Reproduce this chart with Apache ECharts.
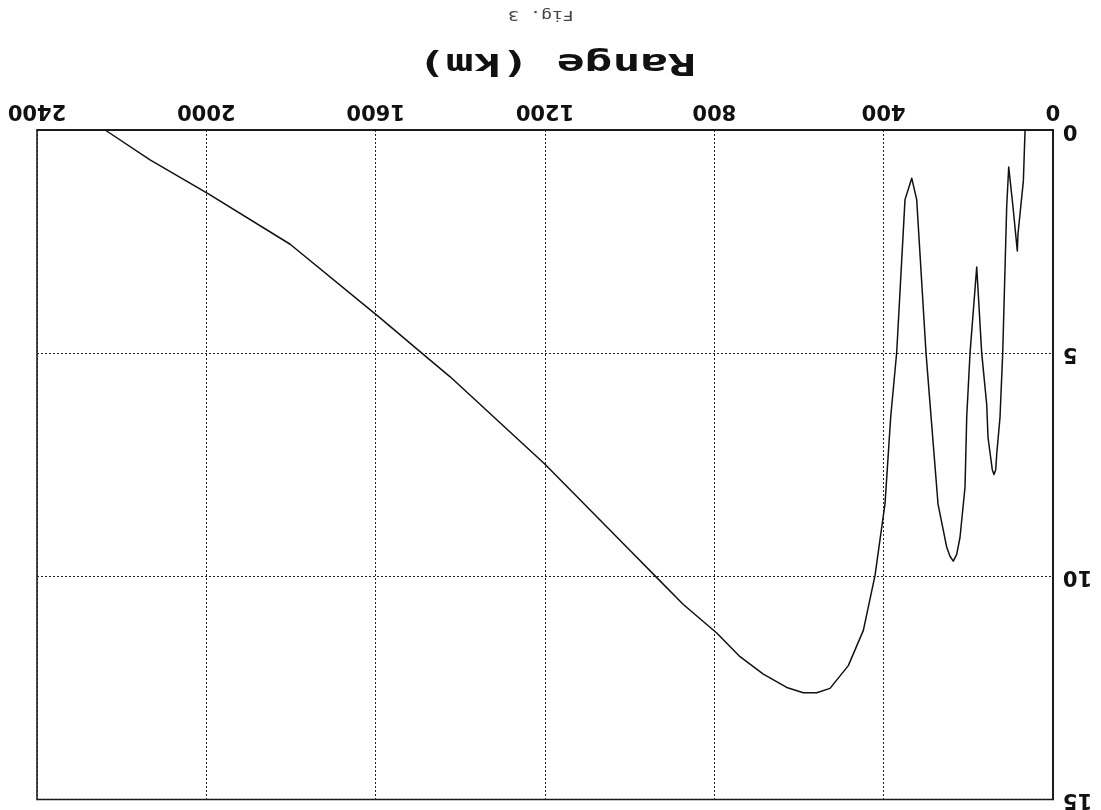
<!DOCTYPE html>
<html>
<head>
<meta charset="utf-8">
<script src="https://cdn.jsdelivr.net/npm/echarts@6/dist/echarts.min.js"></script>
<style>
html,body{margin:0;padding:0;background:#fff;}
#chart{width:1101px;height:810px;}
</style>
</head>
<body>
<div id="chart"></div>
<script>
// Range (km) along the path and the plotted value (axis 0..15)
const rangeKm = [66, 70, 82.7, 84.3, 94.5, 104.6, 109.4, 118.8, 125.2, 133, 135.3, 139.4, 143.4, 153.5, 156.6, 168.4, 180.2, 196, 203.8, 207.9, 219.7, 227.5, 235.5, 243.3, 251, 271.6, 290.5, 300, 322, 333.7, 349.6, 369.2, 383.3, 396.8, 420.4, 448, 483.5, 526.7, 558.1, 589.8, 629, 684.3, 739.3, 794.3, 873.2, 940, 999, 1200, 1424, 1491, 1589.6, 1802, 1995, 2133, 2239];
const values = [0, 1.14, 2.33, 2.71, 1.72, 0.83, 1.72, 5.0, 6.44, 7.27, 7.61, 7.72, 7.61, 6.89, 6.15, 5.0, 3.07, 5.0, 6.43, 8.01, 9.13, 9.51, 9.66, 9.55, 9.35, 8.38, 6.13, 4.99, 1.56, 1.08, 1.56, 4.98, 6.42, 8.37, 9.98, 11.21, 12.0, 12.51, 12.61, 12.61, 12.49, 12.19, 11.80, 11.27, 10.63, 9.99, 9.42, 7.49, 5.53, 5.0, 4.21, 2.56, 1.43, 0.67, 0];
const xAxisMin = 0, xAxisMax = 2400, xAxisStep = 400;
const yAxisMin = 0, yAxisMax = 15, yAxisStep = 5;
const xTitle = 'Range (km)';
const figLabel = 'Fig. 3';

const seriesData = rangeKm.map((r, i) => [r, values[i]]);
const chart = echarts.init(document.getElementById('chart'), null, {renderer: 'canvas'});
const labelFont = {fontFamily: 'DejaVu Sans', fontWeight: 'bold', fontSize: 21, color: '#111', formatter: v => String(v)};
chart.setOption({
  backgroundColor: '#fff',
  animation: false,
  grid: {left: 37, right: 48, top: 130, bottom: 10, show: true, borderColor: '#111', borderWidth: 1.5, backgroundColor: 'transparent'},
  xAxis: {
    type: 'value', min: xAxisMin, max: xAxisMax, interval: xAxisStep,
    inverse: true, position: 'top',
    axisLine: {show: true, lineStyle: {color: '#111', width: 1.5}},
    axisTick: {show: false},
    axisLabel: Object.assign({rotate: 180, margin: 9}, labelFont),
    splitLine: {show: true, lineStyle: {color: '#222', width: 1, type: [2, 2]}}
  },
  yAxis: {
    type: 'value', min: yAxisMin, max: yAxisMax, interval: yAxisStep,
    inverse: true, position: 'right',
    axisLine: {show: true, lineStyle: {color: '#111', width: 1.5}},
    axisTick: {show: false},
    axisLabel: Object.assign({rotate: 180, margin: 10}, labelFont),
    splitLine: {show: true, lineStyle: {color: '#222', width: 1, type: [2, 2]}}
  },
  graphic: [
    {type: 'text', x: 557, y: 62, rotation: Math.PI, scaleX: 1.49,
     style: {text: xTitle, font: 'bold 31px "DejaVu Sans Mono"', fill: '#111', align: 'center', verticalAlign: 'middle'}},
    {type: 'text', x: 541, y: 15, rotation: Math.PI, scaleX: 1.3,
     style: {text: figLabel, font: '14px "DejaVu Sans Mono"', fill: '#444', align: 'center', verticalAlign: 'middle'}}
  ],
  series: [{
    type: 'line', data: seriesData, showSymbol: false, smooth: false,
    lineStyle: {color: '#111', width: 1.5, join: 'round'}, clip: true
  }]
});
</script>
</body>
</html>
